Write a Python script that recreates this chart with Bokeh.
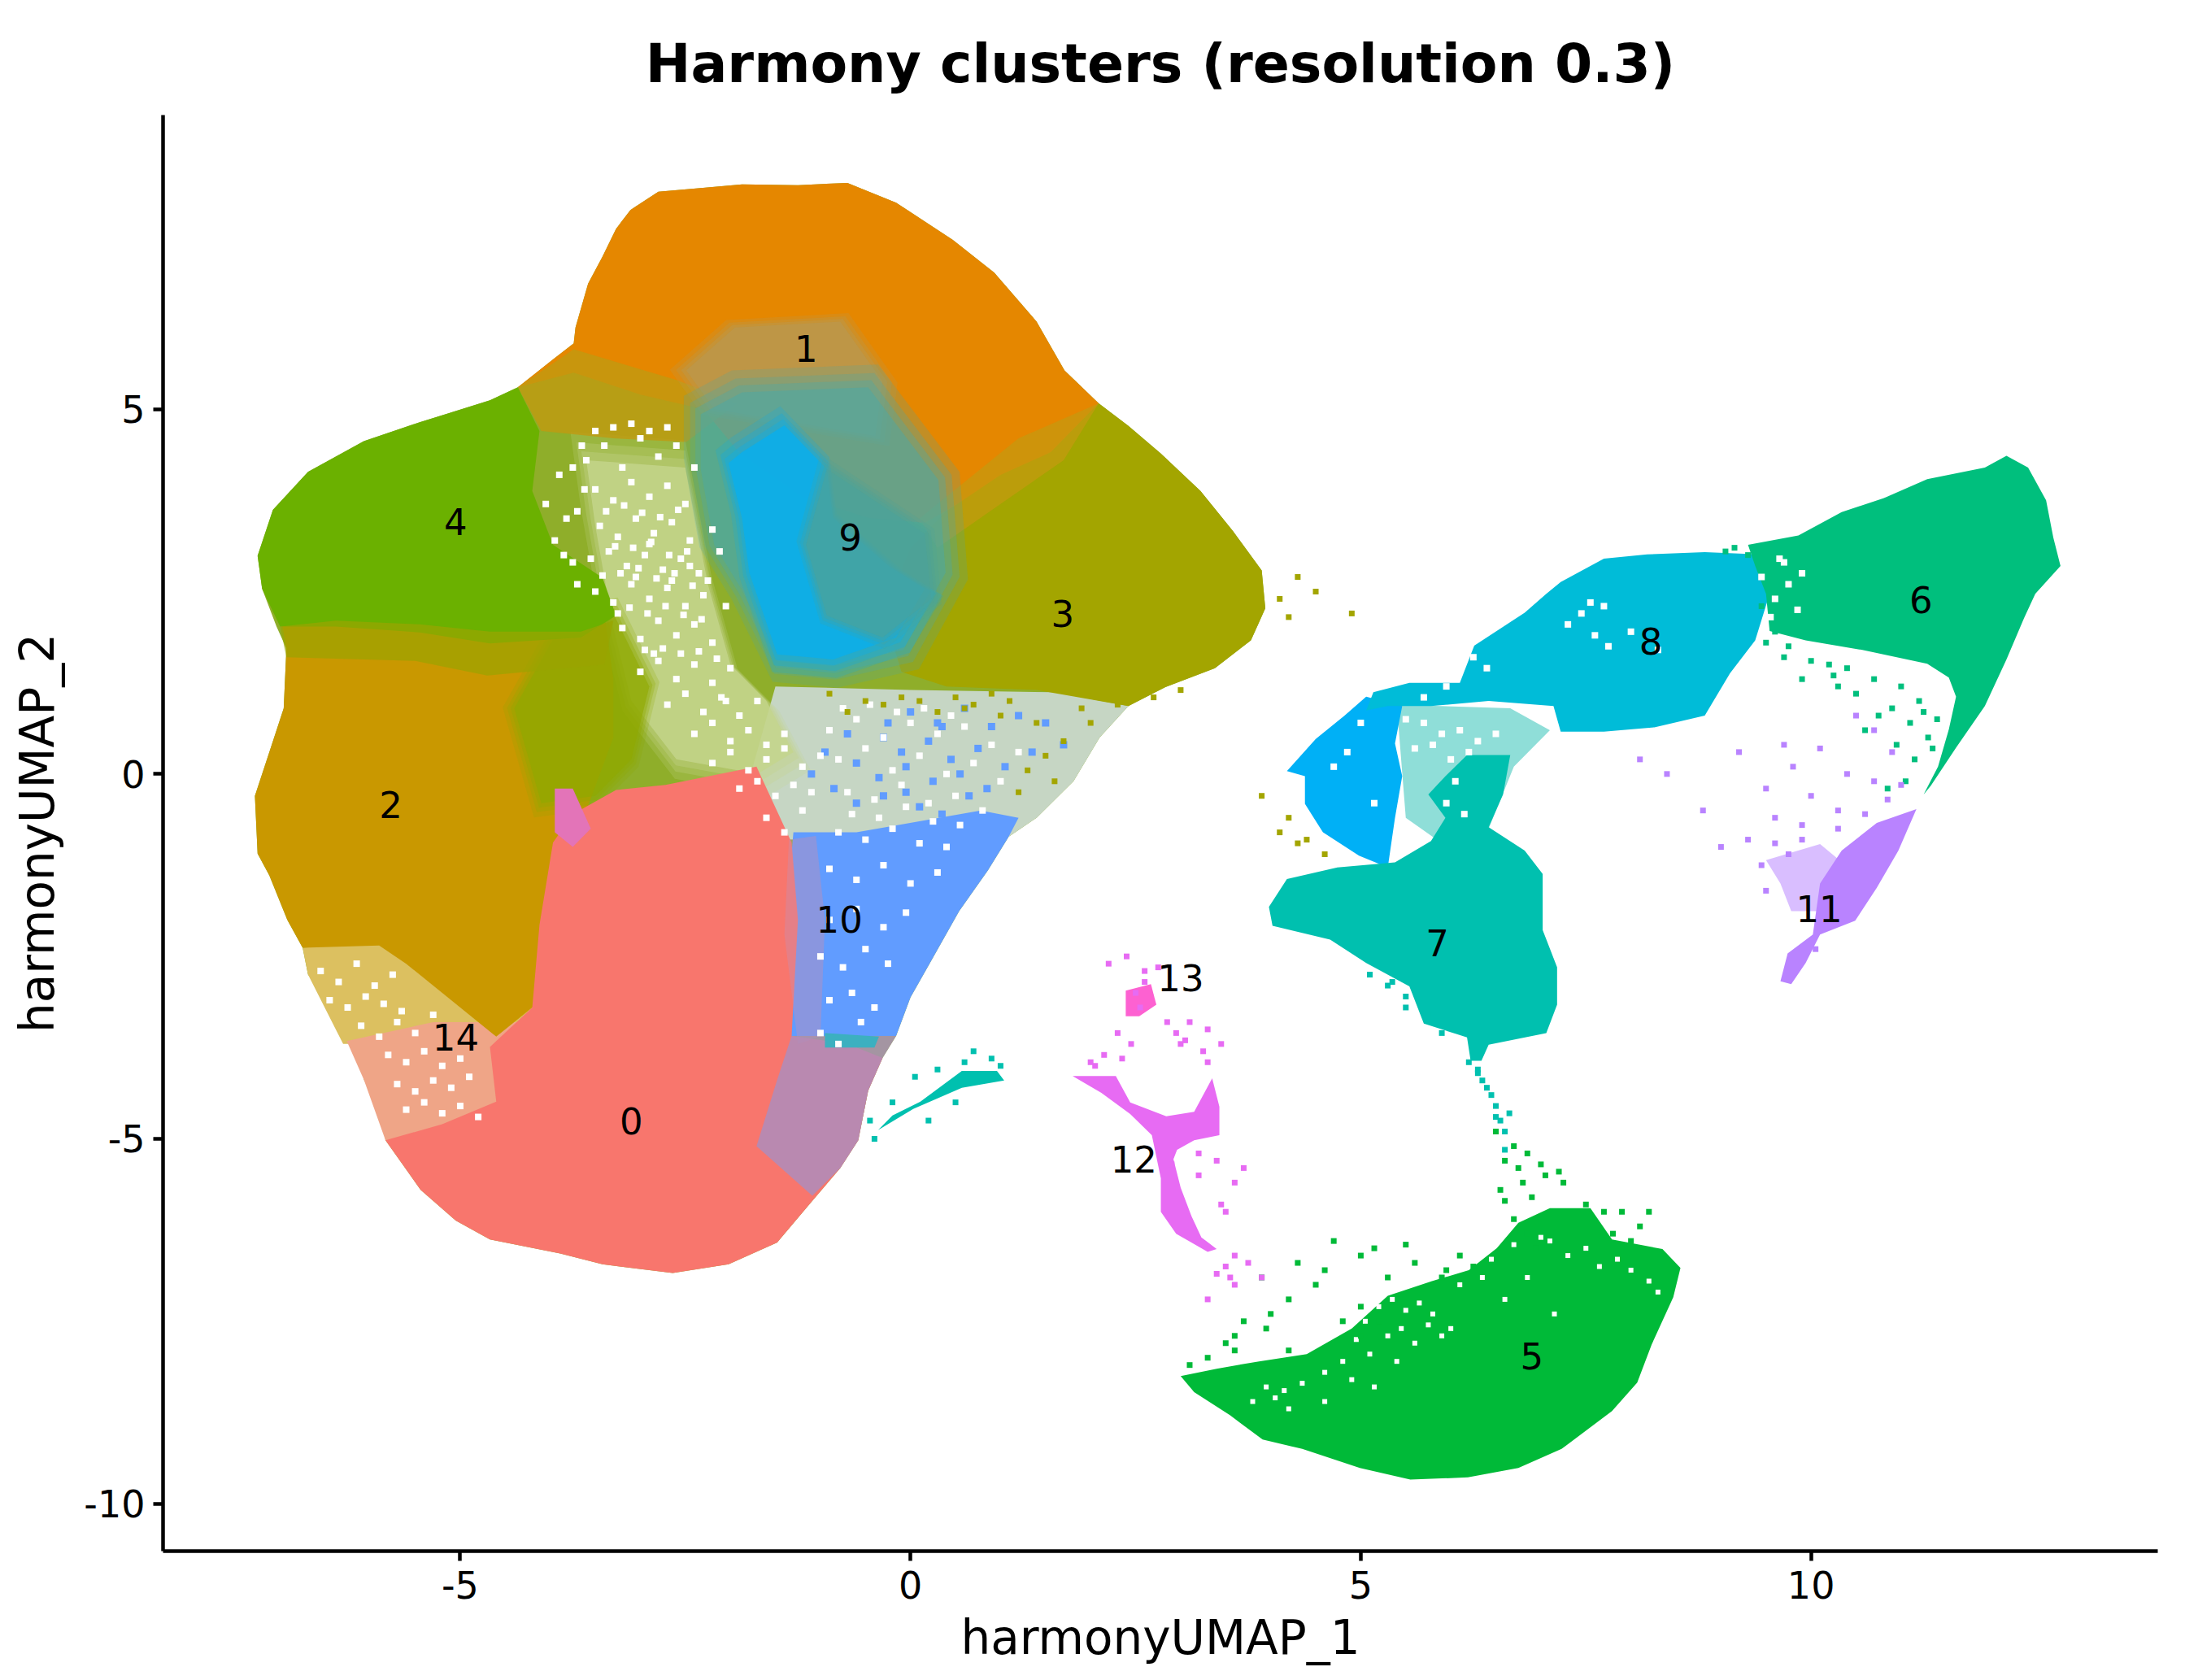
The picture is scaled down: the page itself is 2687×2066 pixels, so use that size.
from bokeh.plotting import figure
from bokeh.embed import file_html
from bokeh.resources import INLINE
from bokeh.models import Range1d, FixedTicker
from bokeh.core.properties import value

title = "Harmony clusters (resolution 0.3)"
x_label, y_label = "harmonyUMAP_1", "harmonyUMAP_2"
x_ticks = [-5, 0, 5, 10]
y_ticks = [-10, -5, 0, 5]
colors = {0:"#F8766D",1:"#E58700",2:"#C99800",3:"#A3A500",4:"#6BB100",5:"#00BA38",6:"#00BF7D",7:"#00C0AF",
          8:"#00BCD8",9:"#00B0F6",10:"#619CFF",11:"#B983FF",12:"#E76BF3",13:"#FD61D1",14:"#FF67A4"}

label_names = [str(i) for i in range(15)]
label_x = [-3.1,-1.16,-5.77,1.69,-5.05,6.9,11.22,5.85,8.22,-0.67,-0.79,10.09,2.48,3.0,-5.05]
label_y = [-4.76,5.83,-0.42,2.2,3.46,-7.97,2.39,-2.31,1.82,3.25,-1.99,-1.85,-5.28,-2.79,-3.61]

# outlines
sil_x=[-3.74,-3.72,-3.58,-3.42,-3.27,-3.11,-2.8,-2.33,-1.87,-1.25,-0.7,-0.16,0.47,0.93,1.4,1.71,2.09,2.42,2.78,3.22,3.58,3.9,3.94,3.78,3.38,2.83,2.42,2.1,1.81,1.4,1.09,0.86,0.54,0.23,0.0,-0.16,-0.31,-0.47,-0.58,-0.78,-1.09,-1.48,-2.02,-2.64,-3.42,-3.89,-4.67,-5.05,-5.44,-5.83,-5.87,-6.07,-6.07,-6.26,-6.3,-6.69,-6.75,-6.92,-7.12,-7.25,-7.28,-7.12,-6.96,-6.93,-7.04,-7.2,-7.25,-7.08,-6.69,-6.07,-5.45,-4.67,-4.36,-3.97]
sil_y=[5.9,6.12,6.72,7.09,7.47,7.73,7.98,8.03,8.08,8.07,8.1,7.83,7.32,6.87,6.2,5.53,5.08,4.77,4.39,3.88,3.33,2.79,2.27,1.83,1.45,1.19,0.93,0.5,-0.1,-0.6,-0.86,-1.32,-1.88,-2.56,-3.06,-3.59,-3.89,-4.34,-5.02,-5.4,-5.85,-6.42,-6.72,-6.84,-6.72,-6.57,-6.38,-6.12,-5.7,-5.02,-4.64,-4.19,-3.89,-3.66,-3.36,-2.75,-2.38,-2.0,-1.39,-1.09,-0.3,0.3,0.9,1.72,2.02,2.54,2.99,3.62,4.14,4.56,4.82,5.12,5.3,5.68]
core_x=[-3.6,-2.5,-2.25,-2.0,-1.6,-1.3,-1.7,-2.6,-3.1,-3.3,-3.5]
core_y=[4.3,4.2,2.6,1.5,1.0,0.3,0.0,0.2,1.0,2.0,3.4]
sp10_x=[-1.5,0.0,1.6,2.42,2.1,1.81,1.4,1.09,0.78,-0.78,-1.4,-1.75]
sp10_y=[1.2,1.15,1.12,0.93,0.5,-0.1,-0.6,-0.86,-0.9,-0.9,-0.9,0.1]
low_g_x=[-6.75,-5.9,-5.0,-4.0,-4.2,-6.3,-6.69]
low_g_y=[-2.38,-2.3,-2.9,-2.8,-3.7,-3.7,-2.75]
low_s_x=[-6.26,-5.3,-4.0,-4.0,-5.83,-6.07]
low_s_y=[-3.66,-3.4,-3.4,-4.9,-5.02,-4.19]
c1_x=[-3.74,-3.72,-3.58,-3.42,-3.27,-3.11,-2.8,-2.33,-1.87,-1.25,-0.7,-0.16,0.47,0.93,1.4,1.71,2.09,1.56,0.78,0.16,-0.47,-1.2,-1.9,-2.3,-3.0,-3.74,-4.36,-3.97]
c1_y=[5.9,6.12,6.72,7.09,7.47,7.73,7.98,8.03,8.08,8.07,8.1,7.83,7.32,6.87,6.2,5.53,5.08,4.41,3.88,3.44,3.51,3.8,4.4,5.0,5.2,5.5,5.3,5.68]
band14_x=[-4.36,-3.74,-2.6,-1.92,-2.49,-3.3,-4.1]
band14_y=[5.3,5.82,5.4,5.08,4.55,4.6,4.7]
c3_x=[2.09,2.42,2.78,3.22,3.58,3.9,3.94,3.78,3.38,2.83,2.42,1.4,0.4,-0.1,-0.3,0.0,0.4,1.0,1.56]
c3_y=[5.08,4.77,4.39,3.88,3.33,2.79,2.27,1.83,1.45,1.19,0.93,1.15,1.2,1.4,2.2,3.1,3.6,4.1,4.41]
band13_x=[2.09,1.2,0.6,0.1,0.3,1.0,1.7]
band13_y=[5.08,4.6,4.0,3.5,3.1,3.7,4.3]
c2_x=[-6.93,-6.96,-7.12,-7.28,-7.25,-7.12,-6.92,-6.75,-5.9,-5.6,-5.2,-4.6,-4.0,-3.8,-3.6,-3.3,-3.3,-3.4,-7.0]
c2_y=[1.72,0.9,0.3,-0.3,-1.09,-1.39,-2.0,-2.38,-2.35,-2.6,-3.0,-3.6,-3.0,-2.0,-0.5,0.5,1.3,2.2,2.2]
mix24_x=[-3.9,-3.3,-2.9,-3.1,-3.5,-4.1,-4.4]
mix24_y=[2.0,2.2,1.2,0.2,-0.3,-0.4,0.9]
c4_x=[-7.25,-7.08,-6.69,-6.07,-5.45,-4.67,-4.36,-4.12,-4.2,-3.97,-3.42,-3.27,-3.66,-4.67,-5.45,-6.38,-7.0,-7.2]
c4_y=[2.99,3.62,4.14,4.56,4.82,5.12,5.3,4.7,3.88,3.14,2.69,2.17,1.87,1.79,1.94,2.02,2.02,2.54]
band42_x=[-7.0,-6.38,-5.45,-4.67,-3.66,-3.3,-3.4,-4.7,-5.5,-6.93]
band42_y=[2.02,2.1,2.05,1.95,1.95,2.1,1.5,1.35,1.55,1.6]
c10_x=[-1.3,-0.6,0.78,1.2,1.09,0.86,0.54,0.23,0.0,-0.16,-1.5]
c10_y=[-0.8,-0.8,-0.5,-0.6,-0.86,-1.32,-1.88,-2.56,-3.06,-3.59,-3.59]
c0_x=[-5.83,-5.44,-5.05,-4.67,-3.89,-3.42,-2.64,-2.02,-1.48,-1.09,-0.78,-0.58,-0.47,-0.31,-0.7,-1.32,-1.25,-1.32,-1.71,-2.72,-3.27,-3.75,-3.97,-4.12,-4.2,-4.67,-4.6,-5.2]
c0_y=[-5.02,-5.7,-6.12,-6.38,-6.57,-6.72,-6.84,-6.72,-6.42,-5.85,-5.4,-5.02,-4.34,-3.89,-3.7,-3.59,-2.0,-0.94,0.1,-0.15,-0.22,-0.55,-0.94,-2.07,-3.2,-3.74,-4.49,-4.8]
pink_x=[-3.95,-3.75,-3.55,-3.75,-3.95]
pink_y=[-0.2,-0.2,-0.75,-1.0,-0.8]
mix010b_x=[-1.35,-1.05,-0.95,-1.0,-1.25,-1.4]
mix010b_y=[-0.9,-0.85,-2.0,-3.6,-3.7,-2.2]
mix010_x=[-1.32,-0.16,-0.31,-0.47,-0.58,-0.78,-1.09,-1.71,-1.48]
mix010_y=[-3.59,-3.59,-3.89,-4.34,-5.02,-5.4,-5.78,-5.1,-4.19]
teal_x=[-0.95,-0.35,-0.4,-0.95]
teal_y=[-3.55,-3.6,-3.75,-3.75]
grey1_x=[-2.49,-1.95,-0.78,-0.31,-0.39,-2.18]
grey1_y=[5.53,6.12,6.2,5.38,4.63,5.0]
mix9_x=[-2.33,-1.87,-0.47,0.31,0.39,-0.08,-0.86,-1.48,-1.87,-2.18,-2.33]
mix9_y=[4.93,5.23,5.3,4.03,2.76,1.7,1.48,1.55,2.52,3.14,4.18]
c9_x=[-2.02,-1.87,-1.4,-0.93,-0.86,-0.23,0.16,-0.16,-0.86,-1.48,-1.79,-1.87]
c9_y=[4.26,4.41,4.78,4.18,3.51,2.84,2.54,1.87,1.57,1.64,2.76,3.5]
grey9_x=[-0.93,0.16,0.23,-0.31,-0.93,-1.16]
grey9_y=[4.18,3.29,2.4,1.87,2.17,3.14]
c6_x=[9.3,9.86,10.34,10.81,11.29,11.93,12.17,12.41,12.61,12.69,12.77,12.49,12.37,12.17,11.93,11.61,11.33,11.25,11.41,11.53,11.61,11.53,11.29,10.57,9.94,9.54,9.5,9.38]
c6_y=[3.14,3.27,3.59,3.78,4.04,4.2,4.36,4.2,3.75,3.24,2.85,2.47,2.15,1.57,0.93,0.36,-0.16,-0.28,0.1,0.61,1.06,1.32,1.51,1.7,1.83,1.96,2.47,2.85]
c8_x=[7.22,7.7,8.18,8.82,9.42,9.54,9.38,9.1,8.82,8.26,7.7,7.22,7.14,6.42,5.78,5.3,5.06,5.14,5.54,6.1,6.26,6.82,7.06]
c8_y=[2.63,2.95,3.01,3.04,3.01,2.47,1.83,1.38,0.8,0.64,0.58,0.58,0.93,1.0,0.93,0.93,0.87,1.12,1.25,1.25,1.76,2.21,2.47]
c9r_x=[5.06,4.82,4.5,4.18,4.38,4.38,4.58,4.98,5.3,5.38,5.46,5.38,5.46,5.06]
c9r_y=[1.06,0.8,0.48,0.04,-0.03,-0.41,-0.8,-1.12,-1.28,-0.6,-0.03,0.42,0.93,1.06]
pale7_x=[5.4,6.66,7.1,6.7,6.42,5.9,5.5]
pale7_y=[0.95,0.9,0.6,0.1,-0.75,-0.95,-0.6]
c7_x=[3.98,4.18,4.74,5.38,5.78,5.94,5.75,5.94,6.18,6.66,6.58,6.42,6.82,7.02,7.02,7.18,7.18,7.06,6.42,6.34,6.22,6.18,5.7,5.54,5.06,4.66,4.02]
c7_y=[-1.82,-1.44,-1.28,-1.21,-0.92,-0.6,-0.28,-0.03,0.26,0.26,-0.28,-0.73,-1.05,-1.37,-2.14,-2.65,-3.16,-3.55,-3.71,-3.93,-3.93,-3.61,-3.42,-2.91,-2.59,-2.27,-2.08]
tail7_x=[-0.36,0.03,0.57,1.04,0.96,0.57,0.11,-0.2]
tail7_y=[-4.88,-4.59,-4.3,-4.2,-4.07,-4.07,-4.49,-4.68]
c5_x=[3.0,3.4,3.87,4.4,4.9,5.3,5.79,6.2,6.51,6.75,7.1,7.55,7.79,8.35,8.55,8.47,8.23,8.07,7.79,7.23,6.75,6.19,5.55,4.99,4.35,3.91,3.55,3.15]
c5_y=[-8.25,-8.15,-8.05,-7.95,-7.6,-7.15,-6.95,-6.8,-6.5,-6.15,-5.95,-5.95,-6.38,-6.51,-6.77,-7.17,-7.82,-8.34,-8.73,-9.25,-9.51,-9.64,-9.67,-9.51,-9.25,-9.12,-8.79,-8.47]
c11_x=[10.1,10.34,10.73,11.17,10.97,10.73,10.49,10.1,9.94,9.78,9.66,9.74,10.02]
c11_y=[-1.5,-1.05,-0.67,-0.48,-1.05,-1.56,-2.01,-2.2,-2.59,-2.88,-2.84,-2.46,-2.2]
pale11_x=[9.5,10.1,10.5,10.34,9.78,9.66]
pale11_y=[-1.18,-0.96,-1.37,-1.88,-1.88,-1.5]
c12_x=[1.8,2.28,2.44,2.84,3.15,3.35,3.43,3.43,3.15,2.96,2.92,3.0,3.12,3.23,3.4,3.3,2.95,2.78,2.78,2.68,2.44,2.12]
c12_y=[-4.14,-4.14,-4.5,-4.69,-4.63,-4.17,-4.56,-4.95,-5.02,-5.15,-5.28,-5.67,-6.06,-6.35,-6.51,-6.55,-6.3,-6.0,-5.54,-4.95,-4.66,-4.37]
c13_x=[2.39,2.67,2.73,2.54,2.39]
c13_y=[-2.97,-2.88,-3.16,-3.32,-3.32]

gap_x=[-3.6,-3.4,-3.2,-3.0,-2.8,-2.6,-2.4,-3.5,-3.3,-3.1,-2.9,-2.7,-2.5,-3.45,-3.25,-3.05,-2.85,-2.65,-2.45,-3.55,-3.35,-3.15,-2.95,-2.75,-2.55,-2.35,-3.5,-3.3,-3.1,-2.9,-2.7,-2.5,-2.3,-3.2,-3.0,-2.8,-2.6,-2.4,-2.2,-3.0,-2.8,-2.6,-2.4,-2.2,-2.0,-2.7,-2.5,-2.3,-2.1,-1.9,-1.7,-2.4,-2.2,-2.0,-1.8,-1.6,-1.4,-2.2,-2.0,-1.8,-1.6,-1.4,-1.2,-1.0,-1.9,-1.7,-1.5,-1.3,-1.1,-1.6,-1.4,-1.2,-3.7,-3.75,-2.9,-3.05,-3.25,-2.65,-2.85,-2.45,-2.25,-2.05,-3.38,-3.18,-2.98,-2.78,-2.58,-3.28,-3.08,-2.88,-2.68,-2.48,-3.42,-3.22,-3.02,-2.82,-2.62,-2.42,-3.12,-2.92,-2.72,-2.52,-2.32,-2.95,-2.75,-2.55,-2.35,-2.15,-3.62,-3.82,-3.9,-3.7,-2.2,-2.05,-2.12,-3.65,-3.75,-3.5,-3.3,-3.1,-2.9,-2.7,-4.05,-3.95,-3.85]
gap_y=[4.3,4.5,4.2,4.6,4.35,4.5,4.2,3.9,3.75,4.0,3.8,3.95,3.7,3.4,3.25,3.5,3.3,3.45,3.2,2.95,3.05,2.85,3.0,2.8,2.95,2.75,2.5,2.35,2.6,2.4,2.55,2.3,2.45,2.0,1.85,2.1,1.9,2.05,1.8,1.4,1.55,1.3,1.5,1.25,1.45,0.95,1.1,0.85,1.05,0.8,1.0,0.55,0.7,0.45,0.6,0.4,0.55,0.15,0.3,0.05,0.2,0.35,0.1,0.25,-0.2,-0.1,-0.3,-0.15,-0.25,-0.6,-0.8,-0.5,3.6,2.9,3.15,2.7,2.2,2.65,1.65,2.85,2.65,1.0,3.6,3.68,3.58,3.52,3.62,3.12,3.1,3.18,3.0,3.05,2.72,2.75,2.82,2.68,2.75,2.58,2.28,2.2,2.3,2.18,2.12,1.7,1.72,1.65,1.68,1.58,3.9,3.5,4.1,2.6,3.35,2.3,3.05,4.5,4.2,4.7,4.75,4.8,4.7,4.75,3.7,3.2,3.0]
gapb_x=[-0.9,-0.6,-0.3,0.0,0.3,0.6,0.9,1.2,-0.8,-0.5,-0.2,0.1,0.4,0.7,1.0,-0.7,-0.4,-0.1,0.2,0.5,0.8,-0.8,-0.5,-0.2,0.1,0.4,-0.9,-0.6,-0.3,0.0,0.3,-0.9,-0.6,-0.3,-0.05,-1.0,-0.75,-0.5,-0.25,-0.9,-0.65,-0.4,-1.0,-0.8,-0.55,-0.75,-0.45,-0.15,0.15,0.45,-0.65,-0.35,-0.05,0.25,0.55]
gapb_y=[0.6,0.75,0.5,0.7,0.55,0.65,0.4,0.3,0.2,0.35,0.05,0.25,0.0,0.15,-0.1,-0.25,-0.35,-0.15,-0.4,-0.3,-0.5,-0.8,-0.9,-0.75,-0.95,-1.0,-1.3,-1.45,-1.25,-1.5,-1.35,-2.0,-1.85,-2.1,-1.9,-2.5,-2.65,-2.4,-2.6,-3.1,-3.0,-3.2,-3.55,-3.7,-3.4,0.9,0.95,0.85,0.9,0.8,-0.55,-0.6,-0.45,-0.65,-0.7]
gapl_x=[-6.55,-6.35,-6.15,-5.95,-5.75,-6.45,-6.25,-6.05,-5.85,-5.65,-6.1,-5.9,-5.7,-5.5,-5.3,-5.8,-5.6,-5.4,-5.2,-5.0,-5.7,-5.5,-5.3,-5.1,-4.9,-5.6,-5.4,-5.2,-5.0,-4.8]
gapl_y=[-2.7,-2.85,-2.6,-2.9,-2.75,-3.1,-3.2,-3.05,-3.15,-3.25,-3.45,-3.6,-3.4,-3.55,-3.3,-3.85,-3.95,-3.8,-4.0,-3.9,-4.25,-4.35,-4.2,-4.3,-4.15,-4.6,-4.5,-4.65,-4.55,-4.7]
gapr_x=[5.5,5.7,5.9,6.1,6.3,6.5,5.6,5.8,6.0,6.2,6.05,5.95,6.15,7.3,7.45,7.6,7.55,7.75,9.45,9.6,9.7,9.55,9.75,9.85,9.65,9.9,8.3,8.0,7.7,5.7,5.95,5.45,6.25,6.4,5.0,4.85,4.7,5.15]
gapr_y=[0.75,0.7,0.55,0.6,0.45,0.55,0.35,0.4,0.2,0.3,-0.1,-0.4,-0.55,2.05,2.2,1.9,2.35,1.75,2.7,2.4,2.9,2.15,2.6,2.25,2.95,2.75,1.7,1.95,2.3,1.05,1.2,1.4,1.6,1.45,0.7,0.3,0.1,-0.4]
gap5_x=[5.2,5.35,5.5,5.65,5.8,5.3,5.45,5.6,5.75,5.9,4.6,4.9,5.15,4.35,4.15,3.95,4.05,7.1,7.3,7.5,7.65,7.85,8.0,8.2,8.3,6.6,6.85,7.0,7.15,6.1,6.35,6.0,5.4,4.6,4.2,3.8,4.95,5.1,5.05,4.8,6.45,6.7]
gap5_y=[-7.3,-7.2,-7.35,-7.25,-7.4,-7.7,-7.6,-7.8,-7.55,-7.7,-8.2,-8.3,-8.4,-8.35,-8.45,-8.4,-8.55,-6.4,-6.6,-6.5,-6.75,-6.65,-6.8,-6.95,-7.1,-7.2,-6.9,-6.35,-7.4,-7.0,-6.9,-7.6,-8.05,-8.6,-8.7,-8.6,-7.75,-7.95,-7.5,-8.05,-6.65,-6.45]
sp3_x=[4.1,4.3,4.5,4.9,4.2,1.9,2.3,2.7,3.0,0.6,1.0,1.4,3.9,4.2,4.4,4.6,4.1,4.3,1.7,1.5,1.3,2.0,1.1,0.9,0.7,0.5,0.3,0.1,-0.1,-0.3,1.2,1.6,-0.5,-0.7,-0.9]
sp3_y=[2.4,2.7,2.5,2.2,2.15,0.9,0.95,1.05,1.15,0.9,0.8,0.7,-0.3,-0.6,-0.9,-1.1,-0.8,-0.95,0.45,0.25,0.05,0.7,1.0,1.1,0.95,1.05,0.85,1.0,1.05,0.95,-0.25,-0.1,1.0,0.85,1.1]
sp10b_x=[0.0,0.3,0.6,0.9,1.2,1.5,1.7,-0.3,-0.1,0.2,0.45,0.75,1.05,1.35,-0.6,-0.35,-0.05,0.25,0.55,0.85,-0.85,-0.6,-0.3,0.1,0.35,0.65,-0.95,-0.7,-0.25,-1.1,-0.05,0.35]
sp10b_y=[0.85,0.7,0.9,0.65,0.8,0.7,0.4,0.5,0.3,0.45,0.2,0.35,0.1,0.3,0.15,-0.05,0.1,-0.1,0.0,-0.2,-0.2,-0.4,-0.3,-0.45,-0.55,-0.3,0.3,0.55,0.7,0.0,-0.25,0.65]
sp6_x=[11.0,11.2,11.1,10.9,10.7,10.5,11.3,11.15,10.95,10.75,11.05,10.85,9.7,9.5,9.9,10.2,10.3,10.6,9.3,9.15,9.05,9.45,9.6,11.4,11.25,11.35,9.75,10.0,10.4,10.25]
sp6_y=[1.2,1.0,0.7,0.9,1.3,1.1,0.5,0.2,0.4,0.8,-0.1,-0.2,1.6,1.8,1.3,1.5,1.2,0.6,3.0,3.1,3.05,2.3,1.95,0.75,0.85,0.35,1.75,1.55,1.45,1.35]
sp11_x=[9.8,10.1,10.4,10.7,10.9,9.6,9.3,9.0,8.8,9.2,9.5,9.9,10.3,8.4,8.1,9.7,10.5,10.7,9.5,10.0,9.6,9.75,9.9,10.3,10.6,10.85,9.45,10.05,11.0]
sp11_y=[0.1,0.35,0.0,-0.1,0.3,-0.6,-0.9,-1.0,-0.5,0.3,-0.2,-0.7,-0.5,0.0,0.2,0.4,0.8,0.6,-1.6,-0.3,-0.95,-1.1,-0.9,-0.75,-0.55,-0.35,-1.25,-2.4,-0.15]
sp5_x=[6.7,6.6,6.5,6.8,6.9,6.55,7.05,7.25,7.5,7.7,7.9,8.1,5.9,5.6,5.3,5.0,4.7,4.5,4.2,4.0,3.7,3.5,3.3,3.1,3.9,4.3,4.6,5.15,5.5,3.6,8.2,8.0,7.8,6.75,6.6,6.85,7.0,7.2,6.7,6.85,6.95,5.95,6.1,6.25,5.0,5.2,5.0,4.8,3.95,4.2,3.6]
sp5_y=[-5.1,-5.3,-4.9,-5.6,-5.8,-5.7,-5.5,-5.6,-5.9,-6.0,-6.0,-6.2,-6.9,-6.7,-6.9,-6.6,-6.4,-7.0,-7.2,-7.4,-7.5,-7.8,-8.0,-8.1,-6.9,-6.7,-6.8,-6.5,-6.45,-7.7,-6.0,-6.4,-6.3,-5.4,-5.85,-5.2,-5.35,-5.45,-6.1,-6.3,-6.5,-6.8,-6.6,-6.75,-7.3,-7.5,-7.7,-7.5,-7.6,-7.9,-7.9]
sp7_x=[6.2,6.3,6.35,6.45,6.5,6.55,6.4,6.6,6.3,6.5,6.65,6.6,5.5,5.3,5.75,5.9,5.5,5.1,5.35,0.6,0.3,0.05,-0.2,-0.4,0.9,0.7,-0.45,1.0,0.5,0.2]
sp7_y=[-3.95,-4.05,-4.2,-4.4,-4.55,-4.75,-4.3,-4.9,-4.1,-4.7,-4.65,-5.15,-3.05,-2.9,-3.3,-3.55,-3.2,-2.75,-2.85,-3.95,-4.05,-4.15,-4.5,-5.0,-3.9,-3.8,-4.75,-4.0,-4.5,-4.75]
sp12_x=[2.2,2.4,2.6,2.5,3.0,3.3,3.25,3.1,3.2,3.4,3.6,3.7,3.45,3.5,3.6,3.75,3.9,3.3,2.05,2.0,2.15,2.35,2.45,2.3,2.6,2.75,2.85,3.6,3.5,3.4,3.55,2.95,3.05,2.55,2.9,3.2,3.3,3.45]
sp12_y=[-2.6,-2.5,-2.7,-3.0,-3.7,-3.5,-3.8,-3.4,-5.5,-5.3,-5.6,-5.4,-5.9,-6.0,-7.0,-6.7,-6.9,-7.2,-4.0,-3.95,-3.85,-3.9,-3.7,-3.55,-2.85,-2.65,-3.4,-6.6,-6.75,-6.85,-6.9,-3.55,-3.65,-3.2,-5.35,-5.2,-3.95,-3.7]

p = figure(width=2671, height=2050, output_backend="svg", toolbar_location=None,
           x_range=Range1d(-8.3, 13.85), y_range=Range1d(-10.65, 9.03),
           min_border_left=200, min_border_right=18, min_border_top=141, min_border_bottom=132)

p.title.text = title
p.title.align = "center"
p.title.text_font = "DejaVu Sans"
p.title.text_font_style = "bold"
p.title.text_font_size = "66.5px"
p.title.text_color = "black"
p.title.standoff = 50

def poly(xs, ys, col, a=1.0):
    p.patch(xs, ys, fill_color=col, fill_alpha=a, line_color=None)

def soft(xs, ys, col, top=0.7):
    cx, cy = sum(xs) / len(xs), sum(ys) / len(ys)
    for s, a in ((1.16, 0.22), (1.1, 0.28), (1.05, 0.35), (1.0, top)):
        poly([cx + (x - cx) * s for x in xs], [cy + (y - cy) * s for y in ys], col, a)

poly(sil_x, sil_y, "#8fae2a")
poly(sp10_x, sp10_y, "#c6d6c4")
soft(core_x, core_y, "#c4d48c", 0.8)
poly(low_g_x, low_g_y, "#dcc060")
poly(low_s_x, low_s_y, "#efa587")
poly(c1_x, c1_y, colors[1])
poly(band14_x, band14_y, "#c09a10", 0.8)
poly(c3_x, c3_y, colors[3])
poly(band13_x, band13_y, "#c49a10", 0.7)
poly(c2_x, c2_y, colors[2])
soft(mix24_x, mix24_y, "#8fa800", 0.6)
poly(c4_x, c4_y, colors[4])
poly(band42_x, band42_y, "#9aa400", 0.7)
poly(c10_x, c10_y, colors[10])
poly(c0_x, c0_y, colors[0])
poly(mix010b_x, mix010b_y, "#c98fb0", 0.4)
poly(pink_x, pink_y, "#e374b8")
poly(mix010_x, mix010_y, "#a98fc0", 0.8)
poly(teal_x, teal_y, "#3cb0c0")
soft(grey1_x, grey1_y, "#b59a55", 0.5)
soft(mix9_x, mix9_y, "#4aa8a8", 0.45)
soft(c9_x, c9_y, "#0caeea", 0.85)
soft(grey9_x, grey9_y, "#4ba39a", 0.55)
poly(pale7_x, pale7_y, "#8fded8")
poly(c9r_x, c9r_y, colors[9])
poly(c8_x, c8_y, colors[8])
poly(c6_x, c6_y, colors[6])
poly(c7_x, c7_y, colors[7])
poly(tail7_x, tail7_y, colors[7])
poly(c5_x, c5_y, colors[5])
poly(pale11_x, pale11_y, "#d9beff")
poly(c11_x, c11_y, colors[11])
poly(c12_x, c12_y, colors[12])
poly(c13_x, c13_y, colors[13])

def pts(xs, ys, col, size=7):
    p.scatter(xs, ys, marker="square", size=size, fill_color=col, line_color=None)

pts(sp10b_x, sp10b_y, colors[10], 9)
pts(gap_x, gap_y, "white", 8)
pts(gapb_x, gapb_y, "white", 8)
pts(gapl_x, gapl_y, "white", 8)
pts(gapr_x, gapr_y, "white", 8)
pts(gap5_x, gap5_y, "white", 6)
pts(sp3_x, sp3_y, colors[3])
pts(sp6_x, sp6_y, colors[6])
pts(sp11_x, sp11_y, colors[11])
pts(sp5_x, sp5_y, colors[5])
pts(sp7_x, sp7_y, colors[7])
pts(sp12_x, sp12_y, colors[12])

p.text(label_x, label_y, text=label_names, text_font=value("DejaVu Sans"), text_font_size="45px",
       text_align="center", text_baseline="middle", text_color="black")

p.grid.visible = False
p.outline_line_color = None
for ax, ticks, lab in ((p.xaxis, x_ticks, x_label), (p.yaxis, y_ticks, y_label)):
    ax.ticker = FixedTicker(ticks=ticks)
    ax.major_label_overrides = {t: str(t) for t in ticks}
    ax.axis_label = lab
    ax.axis_label_text_font = "DejaVu Sans"
    ax.axis_label_text_font_style = "normal"
    ax.axis_label_text_font_size = "58px"
    ax.axis_label_text_color = "black"
    ax.major_label_text_font = "DejaVu Sans"
    ax.major_label_text_font_size = "46px"
    ax.major_label_text_color = "black"
    ax.axis_line_width = 4.5
    ax.axis_line_color = "black"
    ax.major_tick_line_width = 4.5
    ax.major_tick_line_color = "black"
    ax.major_tick_out = 12
    ax.major_tick_in = 0
    ax.minor_tick_line_color = None
p.xaxis.major_label_standoff = 12
p.yaxis.major_label_standoff = 10
p.xaxis.axis_label_standoff = 11
p.yaxis.axis_label_standoff = 20

open("out.html", "w").write(file_html(p, INLINE))
